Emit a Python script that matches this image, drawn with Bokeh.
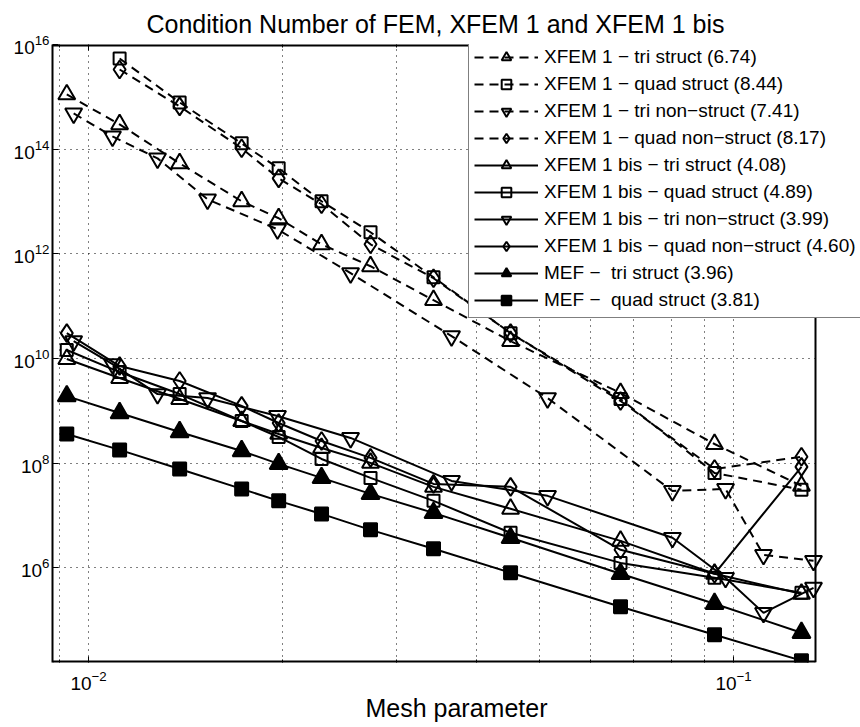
import numpy as np
from bokeh.plotting import figure
from bokeh.models import (FixedTicker, LogAxis, Legend, LegendItem, Range1d,
                          ColumnDataSource, BoxAnnotation, Span)
from bokeh.embed import file_html
from bokeh.resources import INLINE

# ---------------- data ----------------
h_struct = [0.00925, 0.01117, 0.01384, 0.01727, 0.01971, 0.02297,
            0.02736, 0.03426, 0.04511, 0.06680, 0.09344, 0.12745]
h_struct_q = h_struct[1:]
h_nonstruct = [0.00948, 0.01089, 0.01279, 0.01529, 0.01963, 0.02548,
               0.03654, 0.05148, 0.08040, 0.09719, 0.11130, 0.13305]

xfem1_tri_struct = [1.11e15, 2.97e14, 5.36e13, 1.01e13, 4.78e12, 1.52e12,
                    5.79e11, 1.30e11, 2.15e10, 2.19e9, 2.32e8, 3.67e7]
xfem1_quad_struct = [5.41e15, 7.82e14, 1.29e14, 4.31e13, 1.01e13, 2.58e12,
                     3.57e11, 3.05e10, 1.68e9, 6.50e7, 3.10e7]
xfem1_tri_nonstruct = [4.82e14, 1.75e14, 6.67e13, 1.10e13, 2.94e12, 4.27e11,
                       2.67e10, 1.75e9, 2.94e7, 3.22e7, 1.77e6, 1.36e6]
xfem1_quad_nonstruct = [3.33e15, 6.56e14, 1.04e14, 2.77e13, 8.85e12, 1.52e12,
                        3.42e11, 3.05e10, 1.54e9, 7.74e7, 1.32e8]
bis_tri_struct = [9.75e9, 4.23e9, 1.68e9, 6.38e8, 3.61e8, 1.95e8,
                  1.01e8, 3.52e7, 1.34e7, 3.27e6, 7.67e5, 3.19e5]
bis_quad_struct = [1.45e10, 5.50e9, 2.09e9, 6.38e8, 3.16e8, 1.20e8,
                   5.22e7, 1.90e7, 4.66e6, 1.24e6, 6.44e5, 3.33e5]
bis_tri_nonstruct = [2.15e10, 7.82e9, 2.09e9, 1.75e9, 7.96e8, 3.03e8,
                     4.57e7, 2.37e7, 3.74e6, 6.44e5, 1.38e5, 4.15e5]
bis_quad_nonstruct = [3.05e10, 7.16e9, 3.71e9, 1.24e9, 5.85e8, 2.65e8,
                      1.26e8, 4.01e7, 3.52e7, 2.21e6, 7.67e5, 8.50e7]
mef_tri_struct = [1.91e9, 9.08e8, 3.94e8, 1.71e8, 9.66e7, 5.22e7,
                  2.58e7, 1.12e7, 3.74e6, 7.70e5, 2.06e5, 5.75e4]
mef_quad_struct = [3.61e8, 1.79e8, 7.74e7, 3.22e7, 1.90e7, 1.07e7,
                   5.31e6, 2.31e6, 8.04e5, 1.80e5, 5.26e4, 1.68e4]

labels = [
    "XFEM 1 \u2212 tri struct (6.74)",
    "XFEM 1 \u2212 quad struct (8.44)",
    "XFEM 1 \u2212 tri non\u2212struct (7.41)",
    "XFEM 1 \u2212 quad non\u2212struct (8.17)",
    "XFEM 1 bis \u2212 tri struct (4.08)",
    "XFEM 1 bis \u2212 quad struct (4.89)",
    "XFEM 1 bis \u2212 tri non\u2212struct (3.99)",
    "XFEM 1 bis \u2212 quad non\u2212struct (4.60)",
    "MEF \u2212  tri struct (3.96)",
    "MEF \u2212  quad struct (3.81)",
]

x_major = [0.01, 0.1]
x_minor = [0.009, 0.02, 0.03, 0.04, 0.05, 0.06, 0.07, 0.08, 0.09]
y_major = [1e6, 1e8, 1e10, 1e12, 1e14, 1e16]

FONT = "Liberation Sans"

# ---------------- layout ----------------
W, H = 860, 727
FL, FR, FT, FB = 52, 815, 43, 662          # visible axes box (page pixels)
x_lo, x_border = 0.00879, 0.134            # visible x limits
y_lo, y_hi = 10 ** 4.19, 1e16
# the frame is widened to the canvas edge so that the legend can overhang
x_hi = 10 ** (np.log10(x_lo) + (np.log10(x_border) - np.log10(x_lo)) * (W - FL) / (FR - FL))

p = figure(width=W, height=H, x_axis_type="log", y_axis_type="log",
           x_range=Range1d(x_lo, x_hi), y_range=Range1d(y_lo, y_hi),
           output_backend="svg", toolbar_location=None,
           min_border_left=FL, min_border_right=0, min_border_top=FT,
           min_border_bottom=H - FB)

p.title.text = "Condition Number of FEM, XFEM 1 and XFEM 1 bis"
p.title.align = "left"
p.title.offset = 94
p.title.text_font = FONT
p.title.text_font_size = "25px"
p.title.text_font_style = "normal"
p.title.text_color = "black"
p.title.text_line_height = 0.6
p.title.standoff = 14

p.outline_line_color = None

xt = FixedTicker(ticks=x_major, minor_ticks=x_minor)
yt = FixedTicker(ticks=y_major, minor_ticks=[])

p.xaxis.ticker = xt
p.yaxis.ticker = yt

for ax in list(p.xaxis) + list(p.yaxis):
    ax.axis_line_color = "black"
    ax.axis_line_width = 2
    ax.major_tick_in = 6
    ax.major_tick_out = 0
    ax.minor_tick_in = 3
    ax.minor_tick_out = 0
    ax.major_tick_line_color = "black"
    ax.minor_tick_line_color = "black"
    ax.major_label_text_font = FONT
    ax.major_label_text_font_size = "19px"
    ax.major_label_text_color = "black"

p.xaxis.axis_line_color = None
p.yaxis.major_label_standoff = 3
p.xaxis.major_label_standoff = 8
p.xaxis.axis_label = "Mesh parameter"
p.xaxis.axis_label_text_font = FONT
p.xaxis.axis_label_text_font_size = "25px"
p.xaxis.axis_label_text_font_style = "normal"
p.xaxis.axis_label_text_color = "black"
p.xaxis.axis_label_standoff = 1

# mirrored tick marks on top
top_ax = LogAxis(ticker=xt, major_label_text_font_size="2px",
                 major_label_text_alpha=0, axis_line_color=None,
                 major_tick_in=6, major_tick_out=0, minor_tick_in=3, minor_tick_out=0,
                 major_label_standoff=0)
p.add_layout(top_ax, "above")

# grids: dotted
p.xgrid.ticker = xt
p.ygrid.ticker = yt
for g in (p.xgrid, p.ygrid):
    g.grid_line_color = "black"
    g.grid_line_dash = "1 5"
    g.grid_line_width = 1
p.xgrid.minor_grid_line_color = "black"
p.xgrid.minor_grid_line_dash = "1 5"
p.xgrid.minor_grid_line_width = 1

# white strip right of the axes box, and the box edges
p.add_layout(BoxAnnotation(left=x_border, fill_color="white", fill_alpha=1,
                           line_color=None, level="underlay"))
p.add_layout(Span(location=x_border, dimension="height", line_color="black",
                  line_width=2, level="underlay"))
p.line([x_lo, x_border], [y_lo, y_lo], line_color="black", line_width=4)
p.line([x_lo, x_border], [y_hi, y_hi], line_color="black", line_width=4)

# ---------------- series ----------------
LW = 2
series = [
    (h_struct, xfem1_tri_struct, "dashed", "triangle", 17, None),
    (h_struct_q, xfem1_quad_struct, "dashed", "square", 12, None),
    (h_nonstruct, xfem1_tri_nonstruct, "dashed", "inverted_triangle", 17, None),
    (h_struct_q, xfem1_quad_nonstruct, "dashed", "diamond", 18, None),
    (h_struct, bis_tri_struct, "solid", "triangle", 17, None),
    (h_struct, bis_quad_struct, "solid", "square", 12, None),
    (h_nonstruct, bis_tri_nonstruct, "solid", "inverted_triangle", 17, None),
    (h_struct, bis_quad_nonstruct, "solid", "diamond", 18, None),
    (h_struct, mef_tri_struct, "solid", "triangle", 18, "black"),
    (h_struct, mef_quad_struct, "solid", "square", 13, "black"),
]

items = []
for (xs, ys, dash, marker, size, fill), lab in zip(series, labels):
    src = ColumnDataSource(dict(x=xs, y=ys))
    lr = p.line("x", "y", source=src, line_color="black", line_width=LW,
                line_dash=("9 6" if dash == "dashed" else "solid"))
    sr = p.scatter("x", "y", source=src, marker=marker, size=size,
                   line_color="black", line_width=LW,
                   fill_color=(fill if fill else "white"),
                   fill_alpha=(1 if fill else 0))
    items.append(LegendItem(label=lab, renderers=[lr, sr]))

legend = Legend(items=items, location=(416, 344), margin=0, padding=5,
                spacing=3, glyph_width=64, glyph_height=24, label_height=24,
                label_standoff=6, label_text_font=FONT, label_text_font_size="19px",
                label_text_color="black", border_line_color="black",
                border_line_width=1.5, background_fill_color="white",
                background_fill_alpha=1)
p.add_layout(legend)

open("out.html", "w").write(file_html(p, INLINE))
